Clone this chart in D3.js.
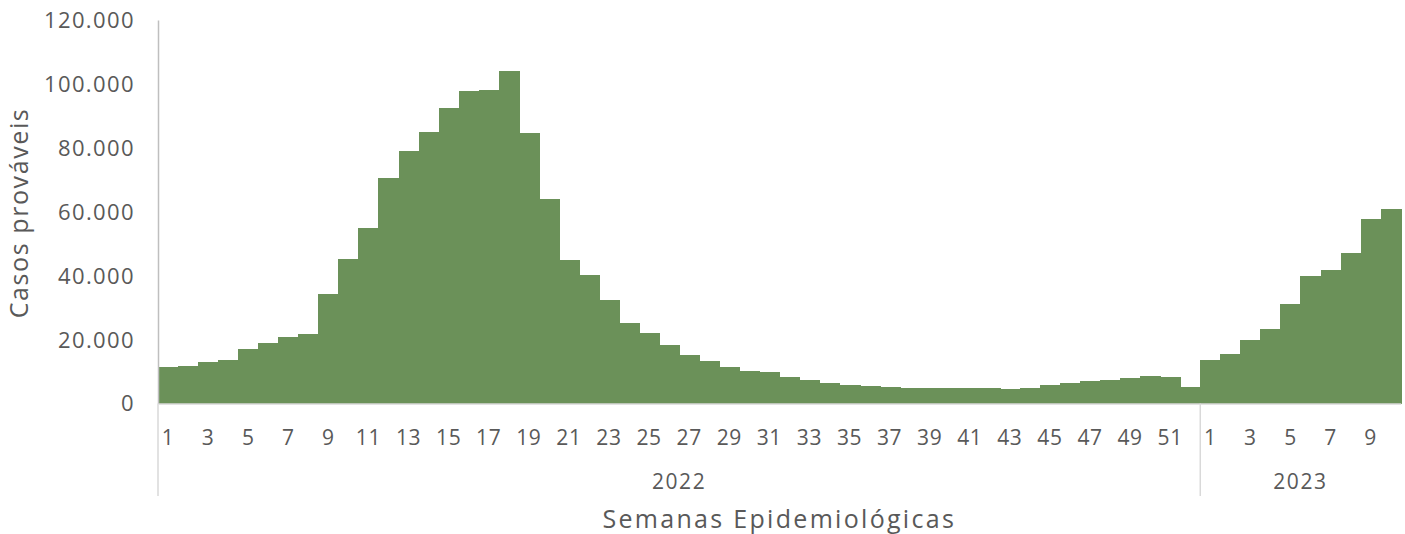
<!doctype html>
<html>
<head>
<meta charset="utf-8">
<title>Casos prováveis</title>
<style>
  body { margin: 0; background: #fff; }
  svg text { font-family: "Open Sans", sans-serif; fill: #595959; }
</style>
</head>
<body>
<div id="here"></div>
<script src="https://cdn.jsdelivr.net/npm/d3@7"></script>
<script>
  // dados: casos prováveis por semana epidemiológica
  var years = ["2022", "2023"];
  var weeks2022 = d3.range(1, 53);
  var weeks2023 = d3.range(1, 11);
  var cases2022 = [11500, 11800, 12900, 13600, 17100, 18900, 20800, 21800, 34200, 45200,
                   54900, 70500, 79100, 84900, 92400, 97900, 98100, 104000, 84500, 64000,
                   44800, 40200, 32300, 25200, 22200, 18200, 15300, 13400, 11500, 10300,
                   9800, 8200, 7300, 6300, 5700, 5400, 5200, 4900, 4750, 4900,
                   4750, 4900, 4500, 4750, 5900, 6500, 7000, 7350, 8000, 8700,
                   8200, 5100];
  var cases2023 = [13500, 15600, 19900, 23400, 31200, 39900, 41700, 47200, 57700, 60900];
  var yTicks = [0, 20000, 40000, 60000, 80000, 100000, 120000];

  var w = 1405, h = 534;
  var m = {top: 20, right: 4.3, bottom: 130.5, left: 158};

  // junta tudo numa lista de barras
  var data = [];
  weeks2022.forEach(function(wk, i) { data.push({year: years[0], week: wk, key: years[0] + "-" + wk, value: cases2022[i]}); });
  weeks2023.forEach(function(wk, i) { data.push({year: years[1], week: wk, key: years[1] + "-" + wk, value: cases2023[i]}); });

  var pt = d3.formatLocale({decimal: ",", thousands: ".", grouping: [3], currency: ["R$", ""]});
  var fmt = pt.format(",.0f");

  var x = d3.scaleBand()
    .domain(data.map(function(d) { return d.key; }))
    .range([m.left, w - m.right])
    .padding(0);

  var y = d3.scaleLinear()
    .domain([0, 120000])
    .range([h - m.bottom, m.top]);

  var svg = d3.select("#here").append("svg")
    .attr("width", w)
    .attr("height", h);

  // barras (sem espaço entre elas)
  svg.append("g")
    .attr("shape-rendering", "crispEdges")
    .selectAll("rect")
    .data(data)
    .enter().append("rect")
    .attr("x", function(d) { return x(d.key); })
    .attr("y", function(d) { return y(d.value); })
    .attr("width", x.bandwidth() + 1)
    .attr("height", function(d) { return y(0) - y(d.value); })
    .attr("fill", "#6b9159");

  // eixo y
  var yAxis = svg.append("g")
    .attr("transform", "translate(" + m.left + ",0)")
    .call(d3.axisLeft(y).tickValues(yTicks).tickFormat(fmt).tickSize(0).tickPadding(23));
  yAxis.select(".domain").attr("stroke", "#bfbfbf").attr("stroke-width", 1.5);
  yAxis.selectAll("text").style("font-size", "22px").style("letter-spacing", "1.4px").attr("dy", "0.34em");

  // eixo x (semanas)
  var xAxis = svg.append("g")
    .attr("transform", "translate(0," + y(0) + ")")
    .call(d3.axisBottom(x).tickSize(0).tickPadding(0)
      .tickFormat(function(k) { var wk = +k.split("-")[1]; return wk % 2 === 1 ? wk : ""; }));
  xAxis.select(".domain").attr("stroke", "#d9d9d9").attr("stroke-width", 1.5);
  xAxis.selectAll("text").style("font-size", "21px").style("letter-spacing", "0.6px").attr("y", 41).attr("dy", 0);

  // separadores dos anos
  var bounds = [x(years[0] + "-1"), x(years[1] + "-1")];
  svg.append("g").selectAll("line")
    .data(bounds)
    .enter().append("line")
    .attr("x1", function(d) { return d; })
    .attr("x2", function(d) { return d; })
    .attr("y1", y(0))
    .attr("y2", 496)
    .attr("stroke", "#d9d9d9")
    .attr("stroke-width", 1.5);

  // rótulos dos anos
  var spans = [
    {label: years[0], x0: x(years[0] + "-1"), x1: x(years[1] + "-1")},
    {label: years[1], x0: x(years[1] + "-1"), x1: w - m.right}
  ];
  svg.append("g").selectAll("text")
    .data(spans)
    .enter().append("text")
    .attr("x", function(d) { return (d.x0 + d.x1) / 2; })
    .attr("y", 489)
    .attr("text-anchor", "middle")
    .style("font-size", "21px")
    .style("letter-spacing", "1.6px")
    .text(function(d) { return d.label; });

  // títulos dos eixos
  svg.append("text")
    .attr("x", (m.left + w - m.right) / 2)
    .attr("y", 528)
    .attr("text-anchor", "middle")
    .style("font-size", "25px")
    .style("letter-spacing", "2.3px")
    .text("Semanas Epidemiológicas");

  svg.append("text")
    .attr("transform", "translate(28," + 213 + ") rotate(-90)")
    .attr("text-anchor", "middle")
    .style("font-size", "25px")
    .style("letter-spacing", "1.6px")
    .text("Casos prováveis");
</script>
</body>
</html>
